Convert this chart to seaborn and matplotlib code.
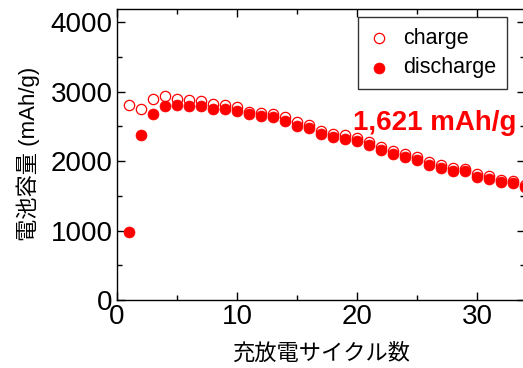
import matplotlib
matplotlib.use('Agg')
import matplotlib.pyplot as plt
from matplotlib.ticker import MultipleLocator
import pandas as pd
import seaborn as sns

sns.set_theme(style='ticks')
plt.rcParams['font.family'] = ['Liberation Sans', 'Noto Sans CJK JP']
plt.rcParams['text.color'] = 'black'
plt.rcParams['axes.labelcolor'] = 'black'
plt.rcParams['xtick.color'] = 'black'
plt.rcParams['ytick.color'] = 'black'

cycles = list(range(1, 35))
charge = [2806, 2758, 2892, 2935, 2902, 2878, 2863, 2820, 2806, 2782,
          2710, 2690, 2676, 2638, 2566, 2520, 2440, 2390, 2384, 2335,
          2270, 2200, 2140, 2100, 2065, 1985, 1945, 1895, 1885, 1810,
          1780, 1730, 1715, 1660]
discharge = [978, 2374, 2686, 2796, 2815, 2800, 2796, 2753, 2753, 2722,
             2675, 2645, 2630, 2585, 2504, 2477, 2398, 2345, 2326, 2292,
             2230, 2158, 2101, 2062, 2024, 1942, 1904, 1856, 1860, 1774,
             1741, 1693, 1679, 1621]
note = '1,621 mAh/g'

df = pd.DataFrame({'cycle': cycles, 'charge': charge, 'discharge': discharge})

fig = plt.figure(figsize=(5.23, 3.68), dpi=100)
ax = fig.add_axes([0.2237, 0.1848, 0.780, 0.7921])

sns.scatterplot(data=df, x='cycle', y='charge', ax=ax, label='charge',
                marker='o', s=55, facecolor='white', edgecolor='red',
                linewidth=0.9, zorder=3)
sns.scatterplot(data=df, x='cycle', y='discharge', ax=ax, label='discharge',
                marker='o', s=62, color='red', edgecolor='red',
                linewidth=0.5, zorder=4)

ax.set_xlim(0, 34)
ax.set_ylim(0, 4200)
ax.xaxis.set_major_locator(MultipleLocator(10))
ax.xaxis.set_minor_locator(MultipleLocator(5))
ax.yaxis.set_major_locator(MultipleLocator(1000))
ax.yaxis.set_minor_locator(MultipleLocator(500))
ax.tick_params(which='both', direction='in', top=True, right=True,
               color='black', width=1)
ax.tick_params(which='major', length=6, labelsize=20, pad=3)
ax.tick_params(which='minor', length=3.5)
for sp in ax.spines.values():
    sp.set_visible(True)
    sp.set_color('black')
    sp.set_linewidth(1)

ax.set_xlabel('充放電サイクル数', fontsize=16, labelpad=10)
ax.set_ylabel('電池容量 (mAh/g)', fontsize=16, labelpad=8)

ax.text(33.3, 2446, note, color='red', fontsize=20, fontweight='bold',
        ha='right', va='baseline')

leg = ax.legend(loc='upper right', bbox_to_anchor=(0.956, 0.971),
                borderaxespad=0, fontsize=15.5, fancybox=False,
                frameon=True, handletextpad=0.6, borderpad=0.5,
                labelspacing=0.4, handlelength=1.0)
leg.get_frame().set_edgecolor('black')
leg.get_frame().set_linewidth(1)

fig.savefig('out.png', dpi=100)
